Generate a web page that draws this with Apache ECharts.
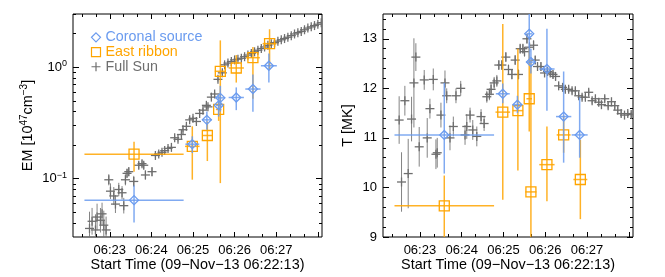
<!DOCTYPE html>
<html><head><meta charset="utf-8">
<script src="https://cdn.jsdelivr.net/npm/echarts@6.0.0/dist/echarts.min.js"></script>
<style>html,body{margin:0;padding:0;background:#fff}#c{width:665px;height:277px}</style>
</head><body><div id="c"></div>
<script>
// ---- axis / tick data (time in seconds after 06:22:00) ----
const X_MIN = 7, X_MAX = 366;
const timeTickSec = [60, 120, 180, 240, 300, 360];
const timeLabelSec = [60, 120, 180, 240, 300];
const timeLabels = ['06:23', '06:24', '06:25', '06:26', '06:27'];
const emMajorTicks = [0.1, 1];
const emMinorTicks = [0.04, 0.05, 0.06, 0.07, 0.08, 0.09, 0.2, 0.3, 0.4, 0.5, 0.6, 0.7, 0.8, 0.9, 2, 3];
const tMajorTicks = [9, 10, 11, 12, 13];

// ---- Coronal source (blue diamonds) ----
const csTime   = [95, 179, 200, 217, 219.4, 242.4, 266.4, 289.4];
const csTimeErr= [71.5, 10, 7, 4, 7, 11, 11, 11.5];
const csEM     = [0.0642, 0.204, 0.337, 0.455, 0.531, 0.535, 0.637, 1.03];
const csEMlo   = [0.0404, 0.17, 0.275, 0.36, 0.40, 0.412, 0.399, 0.728];
const csEMhi   = [0.0867, 0.24, 0.401, 0.56, 0.68, 0.659, 0.86, 1.33];
const csT      = [11.06, 11.89, 11.67, 13.1, 12.53, 12.39, 11.43, 11.06];
const csTlo    = [10.28, 11.7, 11.5, 12.5, 12.3, 11.55, 10.5, 10.6];
const csThi    = [12.11, 12.1, 11.85, 13.6, 12.8, 13.2, 12.34, 11.82];

// ---- East ribbon (orange squares) ----
const ebTime   = [95, 179, 200.7, 217, 219.4, 242.4, 266.4, 290.4];
const ebTimeErr= [71.5, 10.5, 7.5, 4, 8, 11, 10, 10];
const ebEM     = [0.166, 0.195, 0.244, 0.418, 0.919, 0.984, 1.217, 1.626];
const ebEMlo   = [0.1155, 0.098, 0.144, 0.33, 0.0913, 0.728, 0.52, 0.951];
const ebEMhi   = [0.215, 0.295, 0.326, 0.5, 1.74, 1.285, 1.52, 2.19];
const ebT      = [9.63, 11.52, 11.55, 11.79, 9.91, 10.46, 11.06, 10.16];
const ebTlo    = [8.5, 9.75, 10.34, 11.13, 8.5, 9.72, 10.7, 9.36];
const ebThi    = [10.24, 13.3, 12.8, 12.81, 12.57, 11.23, 11.45, 10.96];

// ---- Full Sun (gray pluses), EM panel ----
const fsEmTime = [30.8,34.5,39.4,41.7,46.6,48.9,51.4,54.7,58.6,61,65.8,68.2,73,77.7,80.2,82.6,84.9,87.4,94.6,101.8,106.5,109,111.4,120.9,125.8,130.6,135.3,139.2,144,148.9,153.6,158.4,163.3,165.6,170.5,175.2,180,184.9,189.6,194.4,199.3,201.6,206.5,211.2,216,222.3,225.6,230.4,235.3,240,244.8,249.7,254.4,259.2,264.1,268.8,273.6,278.5,283.2,288,292.9,297.6,302.4,307.3,312,316.8,321.7,326.4,331.2,336.1,340.8,345.6,350.5,355.2,360,364.9];
const fsEm = [0.0358,0.0415,0.0347,0.0453,0.0424,0.0484,0.0383,0.0347,0.0978,0.0773,0.07,0.0592,0.08,0.0748,0.0573,0.0978,0.1117,0.1156,0.0945,0.132,0.1365,0.132,0.108,0.1156,0.1616,0.1667,0.1726,0.1786,0.187,0.191,0.233,0.2255,0.249,0.275,0.295,0.337,0.348,0.326,0.385,0.412,0.455,0.441,0.539,0.575,0.778,0.89,1.05,1.088,1.124,1.163,1.179,1.202,1.242,1.285,1.33,1.374,1.42,1.47,1.518,1.571,1.625,1.66,1.713,1.762,1.807,1.856,1.919,1.986,2.04,2.094,2.166,2.242,2.3,2.362,2.428,2.51];
const fsEmErrDex = [0.15,0.12,0.14,0.12,0.11,0.10,0.13,0.12,0.05,0.07,0.08,0.08,0.06,0.06,0.07,0.05,0.04,0.04,0.05,0.03,0.03,0.03,0.04,0.04,0.02,0.02,0.02,0.02,0.02,0.02,0.02,0.02,0.02,0.02,0.02,0.02,0.02,0.02,0.02,0.02,0.02,0.02,0.02,0.02,0.02,0.02,0.02,0.01,0.01,0.01,0.01,0.01,0.01,0.01,0.01,0.01,0.01,0.01,0.01,0.01,0.01,0.01,0.01,0.01,0.01,0.01,0.01,0.01,0.01,0.01,0.01,0.01,0.01,0.01,0.01,0.01];

// ---- Full Sun, temperature panel ----
const fsTTime = [30.2,33.6,38.4,43.2,48,51.4,54.2,59,66.2,70.5,74.4,79.2,83,84.9,90.2,96,98.5,103.2,108,111.8,118.6,124.8,127.3,132,135.9,141.7,147.8,152.2,156.1,159.8,162.2,166.6,170.5,173.3,177.7,183.4,187.2,192.1,196.8,201.6,204,207.9,210.2,213.7,217.4,223.2,225.6,228.9,233.8,239,243.3,247.2,251.1,254.8,259.2,264.9,268.8,273.6,278.5,283.2,288,292.9,297.6,302.4,307.3,312,316.8,320.7,325.4,330.3,335.1,339.8,344.1,349,353.8,358.5,363.4];
const fsT = [11.36,10.11,11.75,10.28,11.38,12.11,12.63,10.82,12.17,11.0,11.59,12.18,10.67,10.7,11.46,12.11,11.85,11.0,11.23,11.85,12.0,11.06,11.23,11.46,11.16,11.03,11.43,11.29,11.83,11.88,11.98,12.11,12.15,12.47,12.47,12.63,12.38,12.28,12.57,12.28,12.8,12.8,12.74,13.0,12.83,12.87,12.57,12.44,12.44,12.31,12.34,12.31,12.28,12.24,12.05,12.02,11.98,11.98,11.95,11.95,11.85,11.82,11.82,11.92,11.75,11.79,11.72,11.67,11.79,11.65,11.73,11.65,11.56,11.49,11.46,11.49,11.47];
const fsTErr = [0.48,0.6,0.3,0.7,0.45,0.9,0.28,0.4,0.2,0.4,0.2,0.22,0.3,0.3,0.25,0.25,0.15,0.25,0.2,0.15,0.15,0.2,0.25,0.15,0.2,0.2,0.15,0.15,0.12,0.12,0.12,0.12,0.12,0.1,0.1,0.1,0.1,0.1,0.1,0.1,0.1,0.1,0.1,0.1,0.1,0.1,0.08,0.08,0.08,0.08,0.08,0.08,0.08,0.08,0.08,0.06,0.06,0.06,0.06,0.06,0.06,0.06,0.06,0.06,0.06,0.06,0.06,0.06,0.06,0.06,0.06,0.06,0.06,0.06,0.06,0.06,0.06];

const BLUE = '#6A9BEF', ORANGE = '#FFA500', GRAY = '#6E6E6E';
const FONT = 'Liberation Sans, Arial, Helvetica, sans-serif';

function rows(time, terr, v, lo, hi) {
  return time.map((t, i) => [t, v[i], t - terr[i], t + terr[i], lo[i], hi[i]]);
}
const csEmData = rows(csTime, csTimeErr, csEM, csEMlo, csEMhi);
const csTData  = rows(csTime, csTimeErr, csT, csTlo, csThi);
const ebEmData = rows(ebTime, ebTimeErr, ebEM, ebEMlo, ebEMhi);
const ebTData  = rows(ebTime, ebTimeErr, ebT, ebTlo, ebThi);
const fsEmData = fsEmTime.map((t, i) => [t, fsEm[i], t, t, fsEm[i] / Math.pow(10, fsEmErrDex[i]), fsEm[i] * Math.pow(10, fsEmErrDex[i])]);
const fsTData  = fsTTime.map((t, i) => [t, fsT[i], t, t, fsT[i] - fsTErr[i], fsT[i] + fsTErr[i]]);

function render(kind, color) {
  return function (params, api) {
    const t = api.value(0), v = api.value(1);
    const c = api.coord([t, v]);
    const pl = api.coord([api.value(2), v]), ph = api.coord([api.value(3), v]);
    const pvl = api.coord([t, api.value(4)]), pvh = api.coord([t, api.value(5)]);
    const ch = [];
    const es = { stroke: color, lineWidth: kind === 'plus' ? 1 : 1.5, opacity: 0.85 };
    if (Math.abs(ph[0] - pl[0]) > 0.5) ch.push({ type: 'line', shape: { x1: pl[0], y1: c[1], x2: ph[0], y2: c[1] }, style: es });
    ch.push({ type: 'line', shape: { x1: c[0], y1: pvl[1], x2: c[0], y2: pvh[1] }, style: es });
    const ms = { stroke: color, fill: 'none', lineWidth: 1.3 };
    if (kind === 'plus') {
      ch.push({ type: 'line', shape: { x1: c[0] - 4.5, y1: c[1], x2: c[0] + 4.5, y2: c[1] }, style: ms });
      ch.push({ type: 'line', shape: { x1: c[0], y1: c[1] - 4.5, x2: c[0], y2: c[1] + 4.5 }, style: ms });
    } else if (kind === 'square') {
      ch.push({ type: 'rect', shape: { x: c[0] - 5, y: c[1] - 5, width: 10, height: 10 }, style: ms });
    } else {
      const r = 4.5;
      ch.push({ type: 'polygon', shape: { points: [[c[0], c[1] - r], [c[0] + r, c[1]], [c[0], c[1] + r], [c[0] - r, c[1]]] }, style: ms });
    }
    return { type: 'group', children: ch };
  };
}

const minorTime = [];
for (let s = 20; s <= 360; s += 20) if (s % 60 !== 0) minorTime.push(s);
const tMinor = [];
for (let v = 9; v <= 13.5 + 1e-9; v = Math.round((v + 0.2) * 10) / 10) if (Math.abs(v - Math.round(v)) > 1e-6) tMinor.push(v);

const lab = { fontSize: 13, color: '#000', fontFamily: FONT };
const nameStyle = { fontSize: 14.4, color: '#000', fontFamily: FONT };
function xAx(grid, pos, len, vals, labels, name) {
  return {
    type: 'value', gridIndex: grid, position: pos, min: X_MIN, max: X_MAX,
    axisLine: { show: false, onZero: false }, splitLine: { show: false },
    axisTick: { show: true, inside: true, length: len, customValues: vals, lineStyle: { color: '#000', width: 1 } },
    axisLabel: labels ? Object.assign({ show: true, margin: 7, customValues: timeLabelSec,
      formatter: v => timeLabels[timeLabelSec.indexOf(v)] }, lab) : { show: false },
    name: name || '', nameLocation: 'middle', nameGap: 21, nameMoveOverlap: false, nameTextStyle: nameStyle
  };
}
function yAx(grid, pos, min, max, len, vals, labelCfg, name, nameGap) {
  return {
    type: 'value', gridIndex: grid, position: pos, min: min, max: max,
    axisLine: { show: false, onZero: false }, splitLine: { show: false },
    axisTick: { show: true, inside: true, length: len, customValues: vals, lineStyle: { color: '#000', width: 1 } },
    axisLabel: labelCfg || { show: false },
    name: name || '', nameLocation: 'middle', nameGap: nameGap || 0, nameMoveOverlap: false,
    nameTextStyle: Object.assign({ rich: { s: { fontSize: 10, padding: [0, 0, 7, 0], fontFamily: FONT } } }, nameStyle)
  };
}
const L0 = Math.log10(0.03), L1 = Math.log10(3);
const emLabel = Object.assign({ show: true, margin: 6, customValues: [-1, 0],
  formatter: v => '10{s|' + (v < -0.5 ? '\u22121' : '0') + '}',
  rich: { s: { fontSize: 9, padding: [0, 0, 7, 0], fontFamily: FONT } } }, lab);
const tLabel = Object.assign({ show: true, margin: 6, customValues: tMajorTicks, formatter: v => String(v) }, lab);
const SN = "Start Time (09\u2212Nov\u221213 06:22:13)";

const option = {
  animation: false,
  backgroundColor: '#fff',
  textStyle: { fontFamily: FONT },
  grid: [
    { left: 73, top: 14, width: 249, height: 227, show: true, borderColor: '#000', borderWidth: 1, backgroundColor: 'transparent' },
    { left: 383, top: 14, width: 250, height: 227, show: true, borderColor: '#000', borderWidth: 1, backgroundColor: 'transparent' }
  ],
  xAxis: [
    xAx(0, 'bottom', 5, timeTickSec, true, SN),
    xAx(0, 'bottom', 3, minorTime, false),
    xAx(0, 'top', 5, timeTickSec, false),
    xAx(0, 'top', 3, minorTime, false),
    xAx(1, 'bottom', 5, timeTickSec, true, SN),
    xAx(1, 'bottom', 3, minorTime, false),
    xAx(1, 'top', 5, timeTickSec, false),
    xAx(1, 'top', 3, minorTime, false)
  ],
  yAxis: [
    { type: 'log', logBase: 10, gridIndex: 0, min: 0.03, max: 3, show: false },
    yAx(0, 'left', L0, L1, 6, emMajorTicks.map(Math.log10), emLabel, 'EM [10{s|47}cm{s|\u22123}]', 36.5),
    yAx(0, 'left', L0, L1, 3, emMinorTicks.map(Math.log10)),
    yAx(0, 'right', L0, L1, 6, emMajorTicks.map(Math.log10)),
    yAx(0, 'right', L0, L1, 3, emMinorTicks.map(Math.log10)),
    yAx(1, 'left', 9, 13.5, 6, tMajorTicks, tLabel, 'T [MK]', 28),
    yAx(1, 'left', 9, 13.5, 3, tMinor),
    yAx(1, 'right', 9, 13.5, 6, tMajorTicks),
    yAx(1, 'right', 9, 13.5, 3, tMinor)
  ],
  legend: {
    left: 89, top: 30, padding: 0, orient: 'vertical', itemGap: 0, itemWidth: 9, itemHeight: 9,
    selectedMode: false,
    textStyle: { fontSize: 14.3, lineHeight: 14.7, fontFamily: FONT },
    data: [
      { name: 'Coronal source', icon: 'diamond', itemStyle: { color: 'none', borderColor: BLUE, borderWidth: 1.2 }, textStyle: { color: BLUE } },
      { name: 'East ribbon', icon: 'rect', itemStyle: { color: 'none', borderColor: ORANGE, borderWidth: 1.2 }, textStyle: { color: ORANGE } },
      { name: 'Full Sun', icon: 'path://M4,0L4,8M0,4L8,4', itemStyle: { color: 'none', borderColor: GRAY, borderWidth: 1.2 }, textStyle: { color: GRAY } }
    ]
  },
  series: [
    { name: 'Full Sun', type: 'custom', xAxisIndex: 0, yAxisIndex: 0, clip: true, renderItem: render('plus', GRAY), data: fsEmData, encode: { x: 0, y: 1 }, z: 1 },
    { name: 'East ribbon', type: 'custom', xAxisIndex: 0, yAxisIndex: 0, clip: true, renderItem: render('square', ORANGE), data: ebEmData, encode: { x: 0, y: 1 }, z: 2 },
    { name: 'Coronal source', type: 'custom', xAxisIndex: 0, yAxisIndex: 0, clip: true, renderItem: render('diamond', BLUE), data: csEmData, encode: { x: 0, y: 1 }, z: 3 },
    { name: 'Full Sun', type: 'custom', xAxisIndex: 4, yAxisIndex: 5, clip: true, renderItem: render('plus', GRAY), data: fsTData, encode: { x: 0, y: 1 }, z: 1 },
    { name: 'East ribbon', type: 'custom', xAxisIndex: 4, yAxisIndex: 5, clip: true, renderItem: render('square', ORANGE), data: ebTData, encode: { x: 0, y: 1 }, z: 2 },
    { name: 'Coronal source', type: 'custom', xAxisIndex: 4, yAxisIndex: 5, clip: true, renderItem: render('diamond', BLUE), data: csTData, encode: { x: 0, y: 1 }, z: 3 }
  ]
};
const chart = echarts.init(document.getElementById('c'), null, { renderer: 'canvas' });
chart.setOption(option);
</script></body></html>
